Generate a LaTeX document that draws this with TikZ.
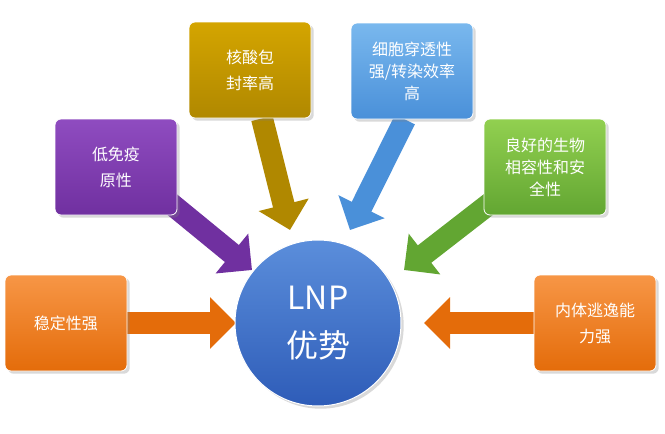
\documentclass[tikz,border=0pt]{standalone}
\usepackage{fontspec}
\setmainfont{Noto Sans CJK SC}
\usepackage{tikz}
\usetikzlibrary{arrows.meta,positioning,backgrounds,shadows}

\definecolor{orangeA}{HTML}{F79646}
\definecolor{orangeB}{HTML}{E46C0A}
\definecolor{purpA}{HTML}{8F4CC0}
\definecolor{purpB}{HTML}{7030A0}
\definecolor{goldA}{HTML}{D4A500}
\definecolor{goldB}{HTML}{B08800}
\definecolor{blueA}{HTML}{79B8EE}
\definecolor{blueB}{HTML}{4A90D9}
\definecolor{greenA}{HTML}{92D050}
\definecolor{greenB}{HTML}{62A632}
\definecolor{circA}{HTML}{5B8EDB}
\definecolor{circB}{HTML}{2E5CB8}

\tikzset{
  adv/.style args={#1/#2}{draw=white, line width=0.8pt, rounded corners=6pt,
    minimum width=122pt, minimum height=96pt, align=center,
    text=white, font=\fontsize{16}{26}\selectfont,
    top color=#1, bottom color=#2, drop shadow={opacity=0.3}},
  fat/.style={line width=22pt, draw=#1,
    -{Triangle[length=26pt,width=50pt,fill=#1]}}
}

\begin{document}
\begin{tikzpicture}[x=1pt,y=-1pt]
  \useasboundingbox (0,0) rectangle (665,434);

  % centre
  \node[circle, draw=white, line width=1pt, minimum size=166pt,
        inner sep=0pt, top color=circA, bottom color=circB, text=white,
        align=center, font=\fontsize{32}{48}\selectfont,
        drop shadow={opacity=0.3}] (lnp) at (318,323) {LNP\\优势};

  % advantages
  \node[adv=orangeA/orangeB] (stab) at (66,323) {稳定性强};
  \node[adv=orangeA/orangeB] (escape) at (595,323) {内体逃逸能\\力强};
  \node[adv=purpA/purpB] (immu) at (116,167) {低免疫\\原性};
  \node[adv=goldA/goldB] (encap) at (250,70) {核酸包\\封率高};
  \node[adv=blueA/blueB, font=\fontsize{16}{22}\selectfont] (trans) at (412,71) {细胞穿透性\\强/转染效率\\高};
  \node[adv=greenA/greenB, font=\fontsize{16}{22}\selectfont] (bio) at (545,167) {良好的生物\\相容性和安\\全性};

  % tips
  \coordinate (tstab) at (236,323);
  \coordinate (tesc) at (424,323);
  \coordinate (timmu) at (252,270);
  \coordinate (tenc) at (290,230);
  \coordinate (ttra) at (350,230);
  \coordinate (tbio) at (404,270);

  \begin{scope}[on background layer]
    \draw[fat=orangeB] (stab.east) -- (tstab);
    \draw[fat=orangeB] (escape.west) -- (tesc);
    \draw[fat=purpB] ([shift={(-14,-18)}]immu.south east) -- (timmu);
    \draw[fat=goldB] ([xshift=12pt]encap.south) -- (tenc);
    \draw[fat=blueB] ([xshift=-7pt]trans.south) -- (ttra);
    \draw[fat=greenB] ([shift={(14,-18)}]bio.south west) -- (tbio);
  \end{scope}
\end{tikzpicture}
\end{document}
